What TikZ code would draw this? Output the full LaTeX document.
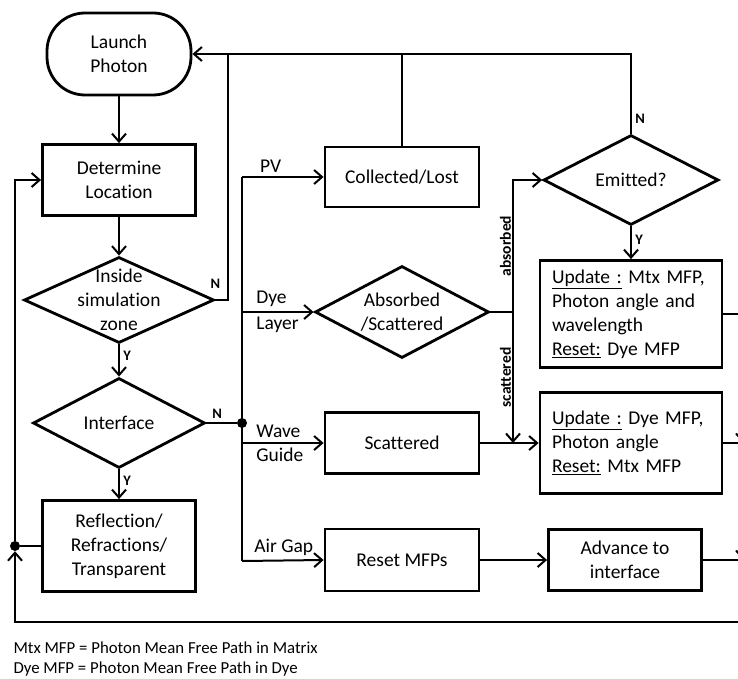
\documentclass[tikz,border=0pt]{standalone}
\usepackage{fontspec}
\setmainfont{Carlito}[RawFeature={-liga;-clig}]
\usetikzlibrary{arrows.meta, positioning, shapes.geometric}

\begin{document}
\begin{tikzpicture}[
    x=1pt, y=-1pt,
    font=\fontsize{19.5}{24}\selectfont,
    term/.style={rectangle, rounded corners=38pt, draw, line width=2.8pt, minimum width=144pt, minimum height=82pt, align=center},
    process/.style={rectangle, draw, line width=2.8pt, minimum width=154pt, minimum height=61pt, align=center},
    update/.style={rectangle, draw, line width=2.8pt, minimum width=182pt, text width=158pt, align=left},
    decision/.style={diamond, draw, line width=2.8pt, inner sep=0pt},
    txt/.style={align=center},
    arrow/.style={-{Straight Barb[length=8pt,width=14pt]}, line width=2pt},
    link/.style={line width=2pt},
    yn/.style={font=\fontsize{14.5}{16}\selectfont\bfseries},
    side/.style={font=\fontsize{15.5}{18}\selectfont\bfseries, rotate=90, inner sep=1pt},
    note/.style={align=left, font=\fontsize{16.8}{19.5}\selectfont},
    dot/.style={circle, fill, inner sep=0pt, minimum size=10pt}
]
\useasboundingbox (0,0) rectangle (738,679);
\clip (0,0) rectangle (738,679);

% left column
\node[term] (launch) at (119,54) {Launch\\Photon};
\node[process, minimum width=153pt, minimum height=71pt] (locate) at (119,180) {Determine\\Location};
\node[decision, minimum width=190pt, minimum height=86pt, label={[txt]center:Inside\\simulation\\zone}] (inside) at (119,300) {};
\node[decision, minimum width=172pt, minimum height=90pt, label={[txt]center:Interface}] (iface) at (119,423) {};
\node[process, minimum width=153pt, minimum height=91pt] (reflect) at (119,546) {Reflection/\\Refractions/\\Transparent};
\node[dot] (ifdot) at (242,423) {};
\node[dot] (refdot) at (15,546) {};

% middle column
\node[process, minimum height=60pt] (collect) at (402,177) {Collected/Lost};
\node[decision, minimum width=174pt, minimum height=92pt, label={[txt]center:Absorbed\\/Scattered}] (absorb) at (402,312) {};
\node[process] (scat) at (402,443) {Scattered};
\node[process, minimum height=62pt] (resetmfp) at (402,560) {Reset MFPs};

% right column
\node[decision, minimum width=175pt, minimum height=90pt, label={[txt]center:Emitted?}] (emit) at (631,180) {};
\node[update, minimum height=107pt] (upd1) at (631,314) {\underline{Update :} Mtx MFP,\\Photon angle and\\wavelength\\\underline{Reset:} Dye MFP};
\node[update, minimum height=101pt] (upd2) at (631,443) {\underline{Update :} Dye MFP,\\Photon angle\\\underline{Reset:} Mtx MFP};
\node[process, minimum width=153pt] (advance) at (625,560) {Advance to\\interface};

\node[note, anchor=west] (legend) at (10,659) {Mtx MFP = Photon Mean Free Path in Matrix\\Dye MFP = Photon Mean Free Path in Dye};

\coordinate (topL) at (228,54);
\coordinate (busT) at (242,177);
\coordinate (busB) at (242,561);
\coordinate (split) at (513,312);
\coordinate (merge) at (513,443);
\coordinate (r2) at (743,443);
\coordinate (r3) at (743,560);
\coordinate (rb) at (743,622);
\coordinate (lb) at (15,622);

\draw[arrow] (launch) -- (locate);
\draw[arrow] (locate) -- (inside);
\draw[arrow] (inside) -- node[yn, right, pos=0.35] {Y} (iface);
\draw[arrow] (iface) -- node[yn, right, pos=0.4] {Y} (reflect);
\draw[arrow] (inside.east) node[yn, above=7pt] {N} -| (topL) -- (launch.east);
\draw[link] (emit.north) |- node[yn, right, pos=0.09] {N} (topL);
\draw[link] (collect.north) -- (collect.north |- topL);

\draw[link] (iface.east) -- node[yn, above, pos=0.35] {N} (ifdot);
\draw[link] (busT) -- (busB);
\draw[arrow] (busT) -- node[pos=0.35, above] {PV} (collect.west);
\draw[arrow] (busT |- absorb) -- node[pos=0, above right=1pt and 10pt] {Dye} node[pos=0, below right=1pt and 10pt] {Layer} (absorb.west);
\draw[arrow] (busT |- scat) -- node[pos=0, above right=1pt and 10pt] {Wave} node[pos=0, below right=1pt and 10pt] {Guide} (scat.west);
\draw[arrow] (busB) -- node[pos=0, above right=1pt and 8pt] {Air Gap} (resetmfp.west);

\draw[link] (absorb.east) -- (split);
\draw[arrow] (split) |- node[side, pos=0.25, above] {absorbed} (emit.west);
\draw[arrow] (split) -- node[side, above] {scattered} (merge);
\draw[arrow] (scat.east) -- (upd2.west);
\draw[arrow] (emit) -- node[yn, right, pos=0.4] {Y} (upd1);
\draw[arrow] (resetmfp) -- (advance);

\draw[link] (reflect.west) -- (refdot);
\draw[arrow] (refdot) |- (locate.west);
\draw[arrow] (upd1.east) -| (r2);
\draw[arrow] (upd2.east) -| (r3);
\draw[arrow] (advance.east) -| (rb) -- (lb) -- (refdot);
\end{tikzpicture}
\end{document}
